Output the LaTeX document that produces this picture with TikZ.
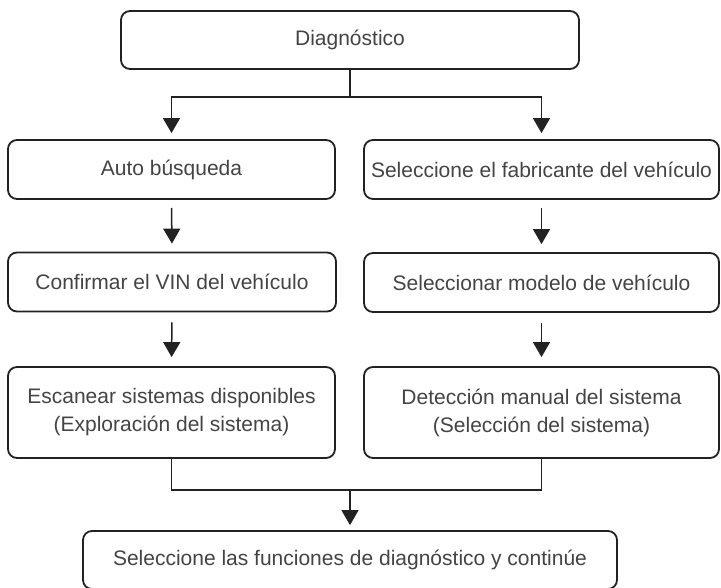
\documentclass[tikz,border=0pt]{standalone}
\usepackage{fontspec}
\setmainfont{Liberation Sans}
\usetikzlibrary{arrows.meta,calc}
\definecolor{txt}{HTML}{444444}
\definecolor{ln}{HTML}{222222}
\begin{document}
\begin{tikzpicture}[x=1pt,y=-1pt,
  box/.style={draw=ln,line width=1.8pt,rounded corners=9pt,fill=white,
    text=txt,font=\fontsize{21}{28}\selectfont,align=center,inner sep=0pt},
  conn/.style={draw=ln,line width=1.5pt},
  arr/.style={conn,-{Triangle[width=17pt,length=15pt]}}]
\useasboundingbox (0,0) rectangle (721,587);
\node[box,minimum width=458pt,minimum height=58pt] (top) at (350,40) {Diagnóstico};
\node[box,minimum width=327pt,minimum height=59pt] (l2) at (171.5,169.5) {Auto búsqueda};
\node[box,minimum width=355pt,minimum height=59pt] (r2) at (541.5,169.5) {Seleccione el fabricante del vehículo};
\node[box,minimum width=328pt,minimum height=59pt] (l3) at (172,282) {Confirmar el VIN del vehículo};
\node[box,minimum width=355pt,minimum height=59pt] (r3) at (541.5,282.5) {Seleccionar modelo de vehículo};
\node[box,minimum width=327pt,minimum height=91pt] (l4) at (171.5,412.5) {Escanear sistemas disponibles\\(Exploración del sistema)};
\node[box,minimum width=355pt,minimum height=91pt] (r4) at (541.5,412.5) {Detección manual del sistema\\(Selección del sistema)};
\node[box,minimum width=534pt,minimum height=58pt] (bot) at (350,560) {Seleccione las funciones de diagnóstico y continúe};
% top split
\coordinate (j1) at ($(top.south)+(0,27)$);
\draw[conn] (top.south) -- (j1);
\draw[arr,shorten >=6pt] (j1) -| (l2.north);
\draw[arr,shorten >=6pt] (j1) -| (r2.north);
% column arrows
\draw[arr,shorten <=8pt,shorten >=8pt] (l2.south) -- (l3.north);
\draw[arr,shorten <=8pt,shorten >=8pt] (r2.south) -- (r3.north);
\draw[arr,shorten <=10pt,shorten >=9pt] (l3.south) -- (l4.north);
\draw[arr,shorten <=10pt,shorten >=9pt] (r3.south) -- (r4.north);
% merge
\coordinate (j2) at (350,490);
\draw[conn] (l4.south) |- (j2);
\draw[conn] (r4.south) |- (j2);
\draw[arr,shorten >=5pt] (j2) -- (bot.north);
\end{tikzpicture}
\end{document}
